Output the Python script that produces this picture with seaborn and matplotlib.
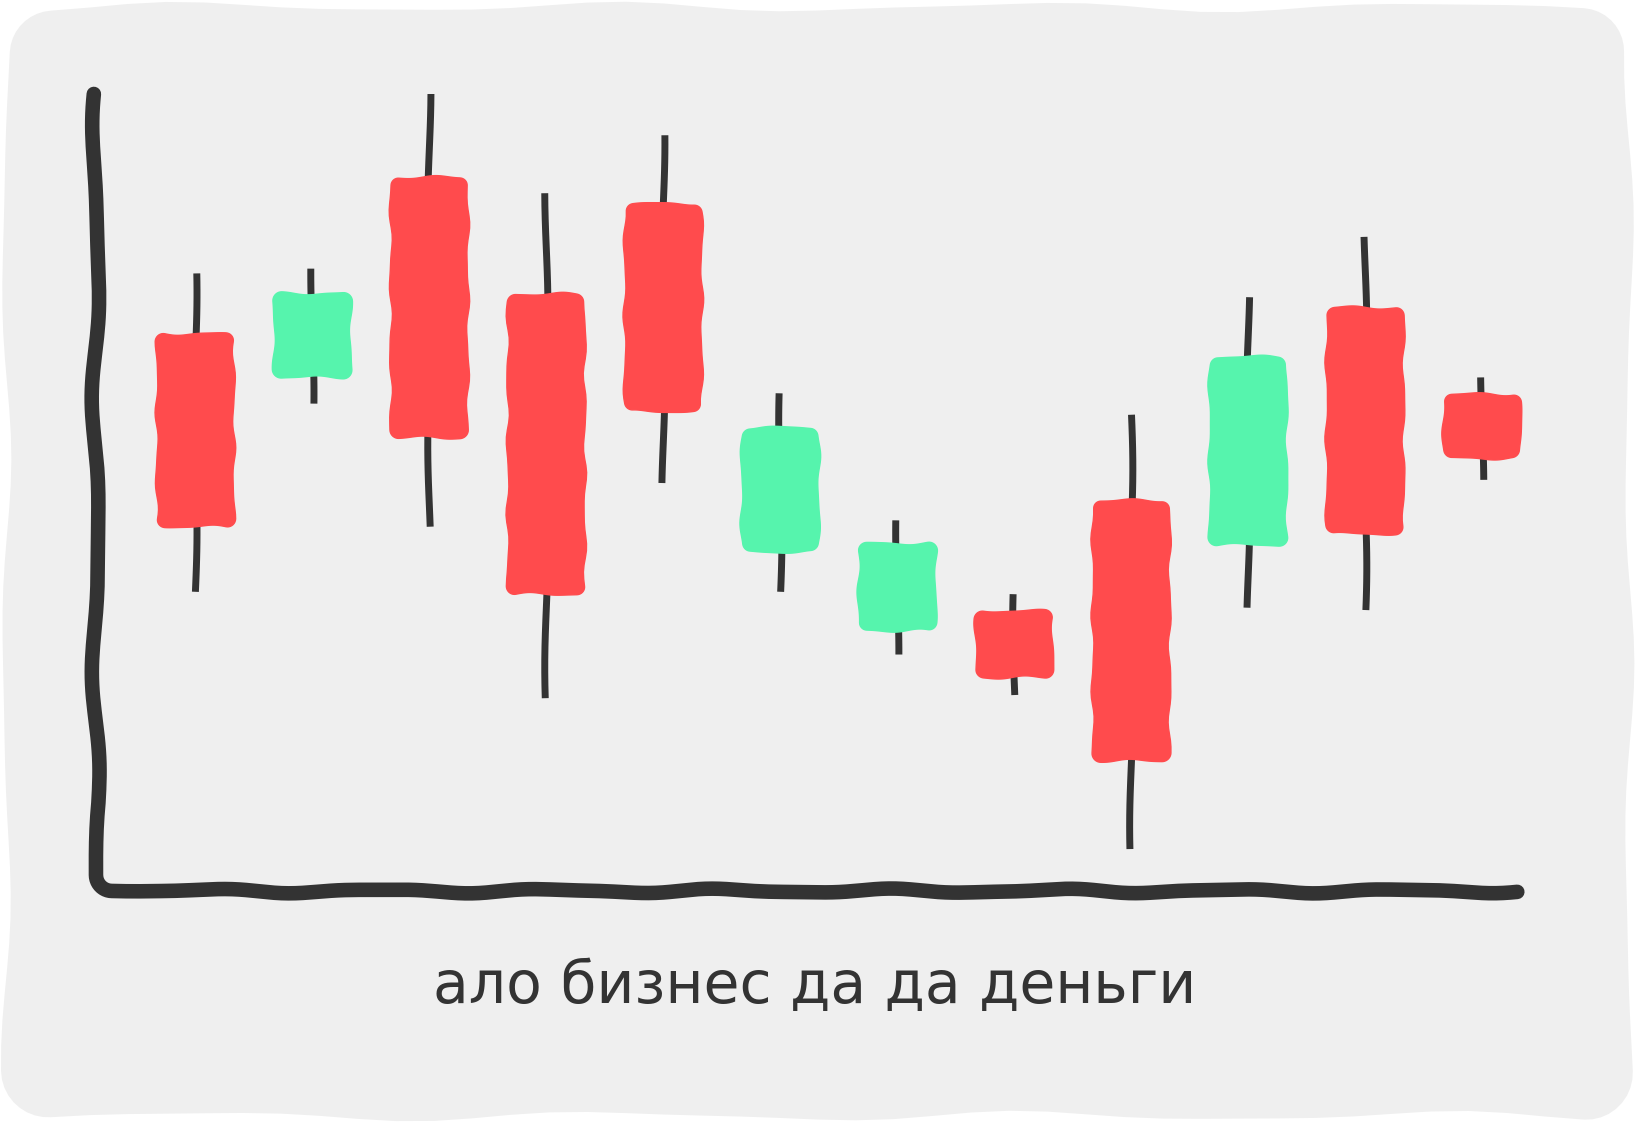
import numpy as np
import pandas as pd
import matplotlib
matplotlib.use("Agg")
import matplotlib.pyplot as plt
from matplotlib.patches import Polygon
import seaborn as sns

# candle data (one per day)
days = list(range(12))
open_ = [69.8, 64.3, 89.5, 74.8, 86.2, 42.3, 32.4, 34.9, 48.8, 43.2, 73.1, 62.2]
close = [45.5, 74.9, 56.7, 37.0, 60.0, 58.0, 43.4, 26.5, 16.0, 66.9, 44.6, 54.1]
high = [77.4, 78.0, 100.0, 87.5, 94.8, 62.3, 46.3, 37.0, 59.6, 74.4, 82.0, 64.3]
low = [37.3, 61.0, 45.5, 23.9, 51.0, 37.3, 29.4, 24.3, 4.9, 35.3, 35.0, 51.4]
caption = "ало бизнес да да деньги"

RED = "#ff4b4d"
GREEN = "#56f4ad"
INK = "#333333"
PAPER = "#efefef"


def rounded_rect(x0, y0, x1, y1, r, n=40):
    def arc(cx, cy, a0):
        t = np.radians(np.linspace(a0, a0 + 90, 10))
        return np.c_[cx + r * np.cos(t), cy + r * np.sin(t)]

    def line(p, q):
        s = np.linspace(0, 1, n, endpoint=False)[1:]
        return np.c_[p[0] + (q[0] - p[0]) * s, p[1] + (q[1] - p[1]) * s]

    a1 = arc(x1 - r, y0 + r, -90)
    a2 = arc(x1 - r, y1 - r, 0)
    a3 = arc(x0 + r, y1 - r, 90)
    a4 = arc(x0 + r, y0 + r, 180)
    return np.vstack([a1, line(a1[-1], a2[0]), a2, line(a2[-1], a3[0]),
                      a3, line(a3[-1], a4[0]), a4, line(a4[-1], a1[0])])


def wobble(pts, amp, wavelength, phase, closed=True):
    # shift points along the normal by a soft sine, wavelength in pixels
    if closed:
        d = np.diff(np.vstack([pts, pts[:1]]), axis=0)
    else:
        d = np.diff(pts, axis=0)
    seg = np.hypot(d[:, 0], d[:, 1])
    total = seg.sum()
    s = np.r_[0, np.cumsum(seg)][:len(pts)]
    k1 = total / wavelength
    k2 = total / (wavelength * 0.55)
    if closed:
        k1, k2 = max(round(k1), 1), max(round(k2), 2)
    u = s / total
    tang = np.gradient(pts, axis=0)
    tang /= np.hypot(tang[:, 0], tang[:, 1])[:, None] + 1e-9
    normal = np.c_[tang[:, 1], -tang[:, 0]]
    off = amp * (np.sin(2 * np.pi * k1 * u + phase)
                 + 0.35 * np.sin(2 * np.pi * k2 * u + 2.3 * phase))
    return pts + normal * off[:, None]


sns.set_theme(style="white")
plt.rcParams["font.family"] = ["DejaVu Sans"]

W, H = 1635, 1124
fig = plt.figure(figsize=(W / 100, H / 100), dpi=100, facecolor="white")

# paper blob behind everything
blob = wobble(rounded_rect(6, 8, 1629, 1117, 45), 4, 420, 0.6)
fig.patches.append(Polygon(blob / [W, H], closed=True, transform=fig.transFigure,
                           facecolor=PAPER, edgecolor="none", zorder=-5))

ax = fig.add_axes([0.0587, 0.21, 0.8693, 0.7064])
ax.set_zorder(1)
ax.set_facecolor("none")
ax.set_xlim(-0.85, 11.3)
ax.set_ylim(0, 100)
for sp in ax.spines.values():
    sp.set_visible(False)
ax.set_xticks([])
ax.set_yticks([])
fig.canvas.draw()

to_px = ax.transData
to_data = ax.transData.inverted()

# wicks through seaborn
rows = []
for i, d in enumerate(days):
    ys = np.linspace(low[i], high[i], 40)
    px = to_px.transform(np.c_[np.full_like(ys, d, dtype=float), ys])
    px[:, 0] += 1.6 * np.sin((px[:, 1] - px[0, 1]) / 38.0 + 1.3 * i)
    dd = to_data.transform(px)
    for x, y in dd:
        rows.append({"day": i, "x": x, "price": y})
wicks = pd.DataFrame(rows)
sns.lineplot(data=wicks, x="x", y="price", units="day", estimator=None, sort=False,
             color=INK, lw=5, solid_capstyle="butt", ax=ax, zorder=2, legend=False)
ax.set_xlabel("")
ax.set_ylabel("")
ax.set_xlim(-0.85, 11.3)
ax.set_ylim(0, 100)

# candle bodies
body_w = 0.66
for i, d in enumerate(days):
    top, bot = max(open_[i], close[i]), min(open_[i], close[i])
    (x0, y0), (x1, y1) = to_px.transform([[d - body_w / 2, bot], [d + body_w / 2, top]])
    shape = wobble(rounded_rect(x0, y0, x1, y1, 8, n=40), 1.3, 70, 0.9 * i)
    color = GREEN if close[i] > open_[i] else RED
    ax.add_patch(Polygon(to_data.transform(shape), closed=True, facecolor=color,
                         edgecolor=color, lw=1.0, joinstyle="round", zorder=3,
                         clip_on=False))

# hand drawn axes
(ox, oy), (tx, ty) = ax.transAxes.transform([[0, 0], [1, 1]])
oy -= 3
r = 16
yaxis = np.c_[np.full(120, ox), np.linspace(ty, oy + r, 120)]
yaxis = wobble(yaxis, 3.2, 260, 0.4, closed=False)
yaxis[-12:, 0] += (ox - yaxis[-12:, 0]) * np.linspace(0, 1, 12)
t = np.radians(np.linspace(180, 270, 12))
corner = np.c_[ox + r + r * np.cos(t), oy + r + r * np.sin(t)]
xaxis = np.c_[np.linspace(ox + r, tx, 200), np.full(200, oy)]
xaxis = wobble(xaxis, 1.8, 170, 1.1, closed=False)
xaxis[:12, 1] += (oy - xaxis[:12, 1]) * np.linspace(1, 0, 12)
path = np.vstack([yaxis, corner, xaxis])
ax.plot(*ax.transAxes.inverted().transform(path).T, transform=ax.transAxes, color=INK,
        lw=10.5, solid_capstyle="round", solid_joinstyle="round", clip_on=False, zorder=4)

fig.text(0.4985, 0.108, caption, ha="center", va="baseline", fontsize=42, color=INK)

fig.savefig("out.png", dpi=100, facecolor="white")
